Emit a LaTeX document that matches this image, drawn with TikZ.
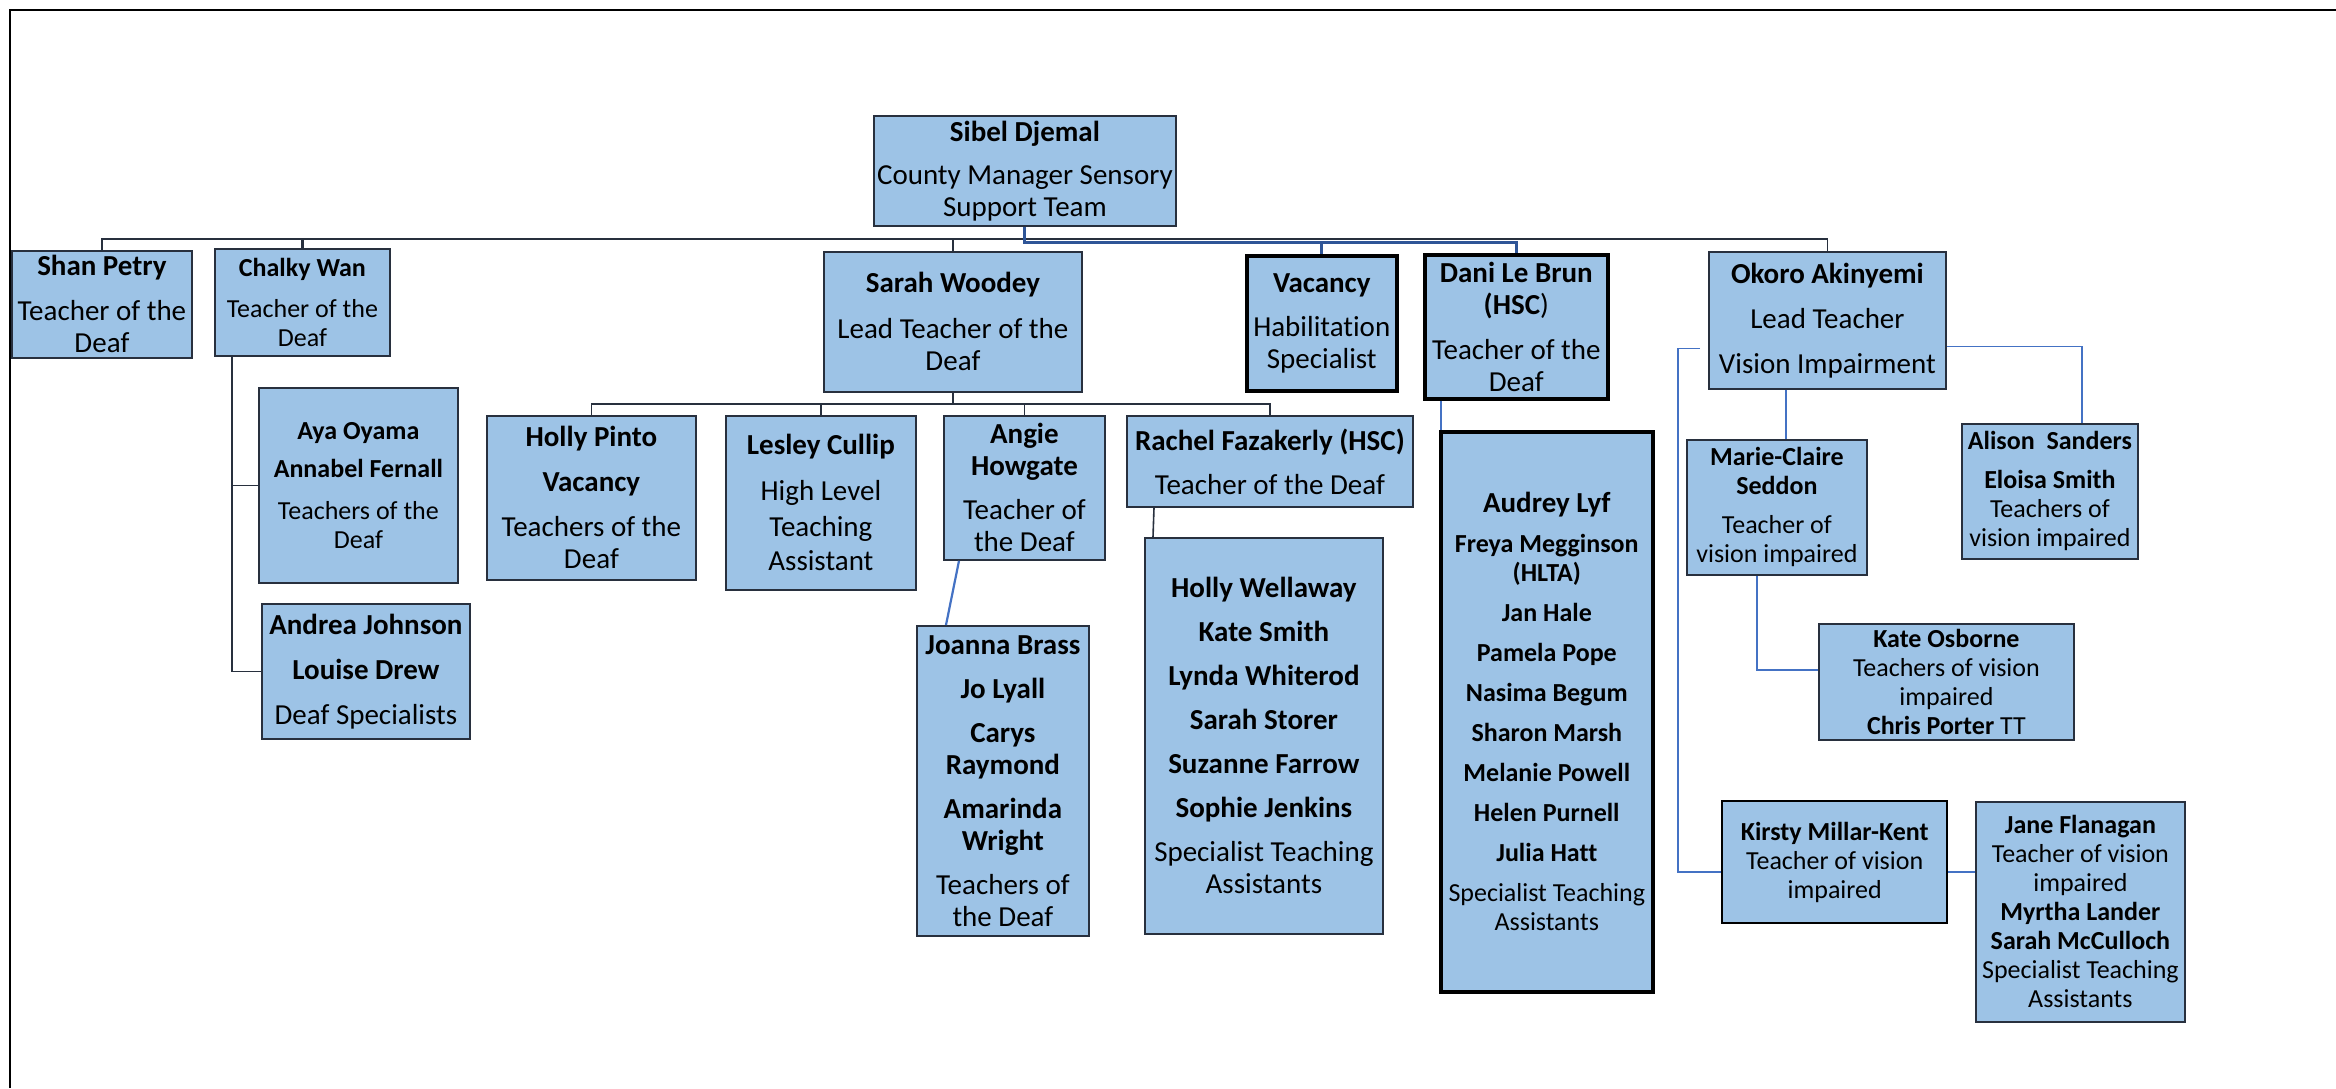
\documentclass[tikz,border=0pt]{standalone}
\usepackage{fontspec}
\setmainfont{Carlito}[Ligatures=NoCommon]
\usepackage{tikz}
\usetikzlibrary{positioning, calc}
\definecolor{boxfill}{RGB}{157,195,230}
\definecolor{boxline}{RGB}{40,48,62}
\definecolor{hubblue}{RGB}{47,85,151}
\definecolor{viblue}{RGB}{68,114,196}

\begin{document}
\begin{tikzpicture}[x=0.5pt, y=-0.5pt,
  box/.style={draw=boxline, line width=0.9pt, fill=boxfill, anchor=north west, align=center,
              inner sep=0pt, font=\fontsize{14.5}{16}\selectfont},
  smallbox/.style={box, font=\fontsize{13}{14.5}\selectfont},
  heavy/.style={draw=black, line width=1.8pt},
  conn/.style={boxline, line width=0.8pt},
  hublink/.style={hubblue, line width=1.5pt},
  vilink/.style={viblue, line width=0.8pt},
]
  \useasboundingbox (0,0) rectangle (2336,1088);
  \draw[black, line width=1.3pt] (10,1088) -- (10,10) -- (2336,10);

  % Head of team
  \node[box, minimum width=151pt, minimum height=55pt] (sibel) at (873,115)
    {\textbf{Sibel Djemal}\\[5.5pt] County Manager Sensory\\ Support Team};

  % Hearing
  \node[box, minimum width=90pt, minimum height=53.5pt] (shan) at (11,250)
    {\textbf{Shan Petry}\\[6.5pt] Teacher of the\\ Deaf};
  \node[smallbox, minimum width=87.5pt, minimum height=53.5pt] (chalky) at (214,248)
    {\textbf{Chalky Wan}\\[6pt] Teacher of the\\ Deaf};
  \node[smallbox, minimum width=99.5pt, minimum height=97.5pt] (aya) at (258,387)
    {\textbf{Aya Oyama}\\[4.5pt] \textbf{Annabel Fernall}\\[6.5pt] Teachers of the\\ Deaf};
  \node[box, minimum width=104pt, minimum height=67.5pt] (andrea) at (261,603)
    {\textbf{Andrea Johnson}\\[6.5pt] \textbf{Louise Drew}\\[6.5pt] Deaf Specialists};
  \node[box, minimum width=129pt, minimum height=70pt] (sarah) at (823,251)
    {\textbf{Sarah Woodey}\\[7pt] Lead Teacher of the\\ Deaf};
  \node[box, minimum width=104.5pt, minimum height=82pt] (hollyp) at (486,415)
    {\textbf{Holly Pinto}\\[6.5pt] \textbf{Vacancy}\\[6.5pt] Teachers of the\\ Deaf};
  \node[box, minimum width=95pt, minimum height=87pt] (lesley) at (725,415)
    {\textbf{Lesley Cullip}\\[7pt] High Level\\[2pt] Teaching\\[1pt] Assistant};
  \node[box, minimum width=80.5pt, minimum height=72pt] (angie) at (943,415)
    {\textbf{Angie}\\ \textbf{Howgate}\\[6pt] Teacher of\\ the Deaf};
  \node[box, minimum width=143pt, minimum height=45.5pt] (rachel) at (1126,415)
    {\textbf{Rachel Fazakerly (HSC)}\\[6pt] Teacher of the Deaf};
  \node[box, minimum width=86pt, minimum height=155pt] (joanna) at (916,625)
    {\textbf{Joanna Brass}\\[6pt] \textbf{Jo Lyall}\\[6pt] \textbf{Carys}\\ \textbf{Raymond}\\[6pt]
     \textbf{Amarinda}\\ \textbf{Wright}\\[6pt] Teachers of\\ the Deaf};
  \node[box, minimum width=119pt, minimum height=198pt] (hollyw) at (1144,537)
    {\textbf{Holly Wellaway}\\[6pt] \textbf{Kate Smith}\\[6pt] \textbf{Lynda Whiterod}\\[6pt]
     \textbf{Sarah Storer}\\[6pt] \textbf{Suzanne Farrow}\\[6pt] \textbf{Sophie Jenkins}\\[6pt]
     Specialist Teaching\\ Assistants};
  \node[box, heavy, minimum width=75pt, minimum height=67.5pt] (vacancy) at (1245,254)
    {\textbf{Vacancy}\\[6pt] Habilitation\\ Specialist};
  \node[box, heavy, minimum width=91.5pt, minimum height=72pt] (dani) at (1423,253)
    {\textbf{Dani Le Brun}\\ \textbf{(HSC})\\[6.5pt] Teacher of the\\ Deaf};
  \node[smallbox, heavy, minimum width=106pt, minimum height=280pt] (audrey) at (1439,430)
    {{\fontsize{14.5}{16}\selectfont\textbf{Audrey Lyf}}\\[5.5pt] \textbf{Freya Megginson}\\ \textbf{(HLTA)}\\[5.5pt]
     \textbf{Jan Hale}\\[5.5pt] \textbf{Pamela Pope}\\[5.5pt] \textbf{Nasima Begum}\\[5.5pt]
     \textbf{Sharon Marsh}\\[5.5pt] \textbf{Melanie Powell}\\[5.5pt] \textbf{Helen Purnell}\\[5.5pt]
     \textbf{Julia Hatt}\\[5.5pt] Specialist Teaching\\ Assistants};

  % Vision
  \node[box, minimum width=118.5pt, minimum height=68.5pt] (okoro) at (1708,251)
    {\textbf{Okoro Akinyemi}\\[6.5pt] Lead Teacher\\[6.5pt] Vision Impairment};
  \node[smallbox, minimum width=90pt, minimum height=67.5pt] (marie) at (1686,439)
    {\textbf{Marie-Claire}\\ \textbf{Seddon}\\[5pt] Teacher of\\ vision impaired};
  \node[smallbox, minimum width=88pt, minimum height=67.5pt] (alison) at (1961,423)
    {\textbf{Alison\ \ Sanders}\\[5pt] \textbf{Eloisa Smith}\\ Teachers of\\ vision impaired};
  \node[smallbox, minimum width=127.5pt, minimum height=58pt] (kate) at (1818,623)
    {\textbf{Kate Osborne}\\ Teachers of vision\\ impaired\\ \textbf{Chris Porter} TT};
  \node[smallbox, draw=black, line width=1.2pt, minimum width=112.5pt, minimum height=61pt] (kirsty) at (1721,800)
    {\textbf{Kirsty Millar-Kent}\\ Teacher of vision\\ impaired};
  \node[smallbox, minimum width=104.5pt, minimum height=110pt] (jane) at (1975,801)
    {\textbf{Jane Flanagan}\\ Teacher of vision\\ impaired\\ \textbf{Myrtha Lander}\\
     \textbf{Sarah McCulloch}\\ Specialist Teaching\\ Assistants};

  % Top level links
  \draw[conn] (sibel.south) -- ++(0,12) coordinate (hub);
  \foreach \n in {shan, sarah, okoro} {
    \draw[conn] (hub) -| (\n.north);
  }
  \draw[conn, line width=1.3pt] (hub) -| (chalky.north);
  \draw[hublink] (sibel.south) -- ($(hub)+(0,4)$) -| (dani.north);
  \draw[hublink] ($(hub)+(0,4)$) -| (vacancy.north);

  % Hearing links
  \draw[conn] (sarah.south) -- ++(0,11) coordinate (sarahbar);
  \foreach \n in {hollyp, lesley, angie, rachel} {
    \draw[conn] (sarahbar) -| (\n.north);
  }
  \draw[conn] ($(chalky.south west)+(18,0)$) |- (andrea.west);
  \draw[conn] ($(chalky.south west)+(18,0)$) |- (aya.west);
  \draw[conn] ($(rachel.south west)+(28,0)$) -- ($(hollyw.north west)+(9,0)$);
  \draw[vilink, line width=1.1pt] ($(angie.south west)+(16,0)$) -- ($(joanna.north west)+(30,0)$);
  \draw[vilink, line width=1.1pt] ($(dani.south west)+(18,0)$) -- ($(audrey.north west)+(2,0)$);

  % Vision links
  \draw[vilink] ($(okoro.south west)+(78,0)$) -- ($(marie.north west)+(100,0)$);
  \draw[vilink] ($(okoro.west)+(-8,28)$) -- ++(-22,0) |- ($(kirsty.west)+(0,10)$);
  \draw[vilink] ($(okoro.east)+(0,26)$) -| ($(alison.north west)+(121,0)$);
  \draw[vilink] ($(marie.south west)+(71,0)$) |- ($(kate.west)+(0,-12)$);
  \draw[vilink] ($(kirsty.east)+(0,10)$) -- ($(jane.west |- kirsty.east)+(0,10)$);
\end{tikzpicture}
\end{document}
